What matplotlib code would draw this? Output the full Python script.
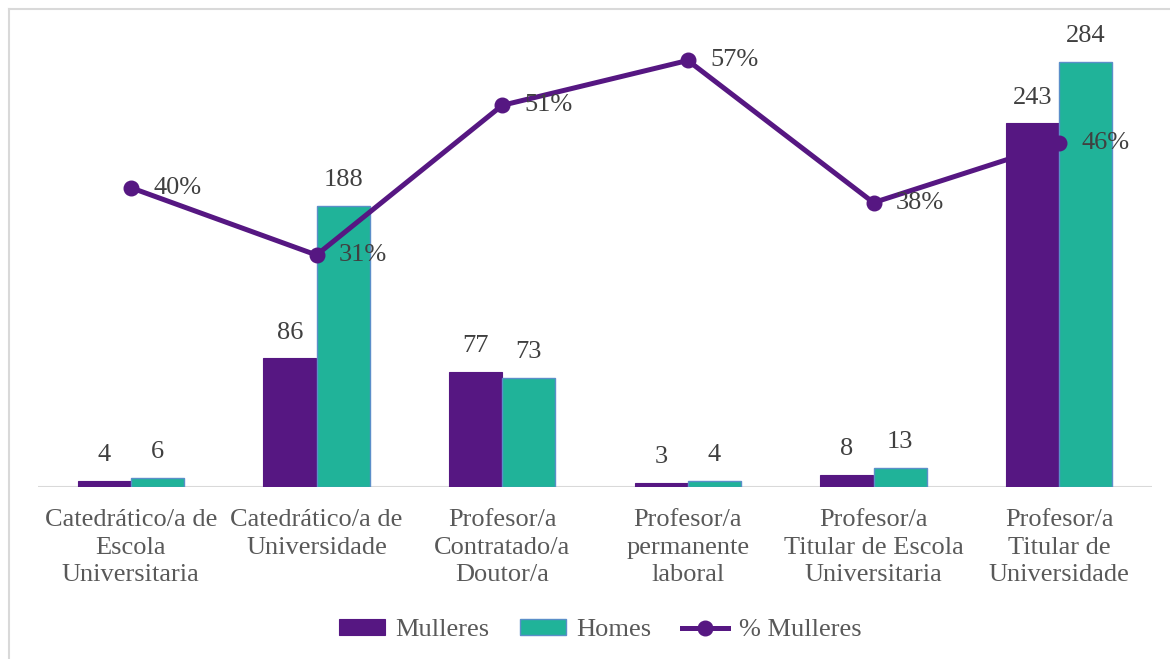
import matplotlib
matplotlib.use("Agg")
import matplotlib.pyplot as plt
from matplotlib.lines import Line2D
import numpy as np

categories = ["Catedrático/a de\nEscola\nUniversitaria",
              "Catedrático/a de\nUniversidade",
              "Profesor/a\nContratado/a\nDoutor/a",
              "Profesor/a\npermanente\nlaboral",
              "Profesor/a\nTitular de Escola\nUniversitaria",
              "Profesor/a\nTitular de\nUniversidade"]
mulleres = [4, 86, 77, 3, 8, 243]
homes = [6, 188, 73, 4, 13, 284]
pct_mulleres = [0.40, 0.31, 0.51, 0.57, 0.38, 0.46]

PURPLE = "#561782"
TEAL = "#20B399"
EDGE = "#5B8FC9"
TXT = "#404040"
TICK = "#595959"
FS = 19

plt.rcParams['font.family'] = ['Liberation Serif', 'DejaVu Serif']

fig = plt.figure(figsize=(11.7, 6.59), dpi=100)
W, H = 1170, 659
left, right, top, base = 38, 1152, 38, 487
ax = fig.add_axes([left / W, (H - base) / H, (right - left) / W, (base - top) / H])

x = np.arange(len(categories))
bw = 0.286
b1 = ax.bar(x - bw / 2, mulleres, bw, color=PURPLE, edgecolor=PURPLE, linewidth=0.8, label="Mulleres", zorder=2)
b2 = ax.bar(x + bw / 2, homes, bw, color=TEAL, edgecolor=EDGE, linewidth=1.0, label="Homes", zorder=2)
ax.set_xlim(-0.5, len(categories) - 0.5)
ax.set_ylim(0, 300)
for s in ax.spines.values():
    s.set_visible(False)
ax.axhline(0, color="#D9D9D9", linewidth=1.5, zorder=1)
ax.set_yticks([])
ax.set_xticks(x)
ax.set_xticklabels(categories, fontsize=FS, color=TICK, linespacing=1.32)
ax.tick_params(axis='x', length=0, pad=16)

for bars, vals in ((b1, mulleres), (b2, homes)):
    for r, v in zip(bars, vals):
        ax.annotate(str(v), (r.get_x() + r.get_width() / 2, v), xytext=(0, 18.5),
                    textcoords="offset points", ha="center", va="center",
                    fontsize=FS, color=TXT)

ax2 = ax.twinx()
ax2.set_ylim(0, 0.6)
ax2.set_yticks([])
for s in ax2.spines.values():
    s.set_visible(False)
ax2.plot(x, pct_mulleres, color=PURPLE, linewidth=3.6, marker="o", markersize=10.5,
         solid_capstyle="round", zorder=3)
for xi, p in zip(x, pct_mulleres):
    ax2.annotate(f"{round(p * 100)}%", (xi, p), xytext=(16, 0), textcoords="offset points",
                 ha="left", va="center", fontsize=FS, color=TXT)

handles = [b1, b2, Line2D([], [], color=PURPLE, linewidth=3.6, marker="o", markersize=10.5)]
labels = ["Mulleres", "Homes", "% Mulleres"]
fig.legend(handles, labels, loc="center", bbox_to_anchor=(600 / W, (H - 630) / H), ncol=3,
           frameon=False, fontsize=FS, labelcolor=TICK, handlelength=1.75, handleheight=0.6,
           handletextpad=0.4, columnspacing=1.15)

# chart border (left and top only visible)
fig.add_artist(Line2D([9 / W, 9 / W], [0, (H - 9) / H], color="#D9D9D9", linewidth=1.5,
                      transform=fig.transFigure))
fig.add_artist(Line2D([9 / W, 1], [(H - 9) / H, (H - 9) / H], color="#D9D9D9", linewidth=1.5,
                      transform=fig.transFigure))

fig.savefig("out.png", dpi=100, facecolor="white")
